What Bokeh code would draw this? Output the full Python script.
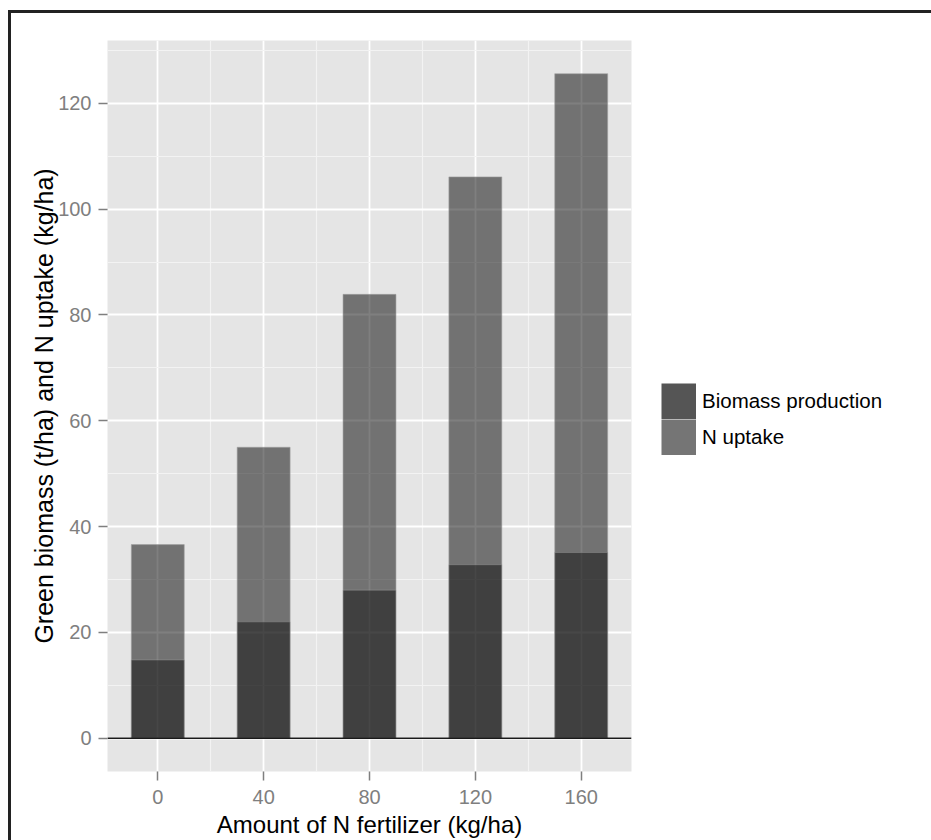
from bokeh.plotting import figure
from bokeh.models import Range1d, FixedTicker, Span, Legend, LegendItem
from bokeh.embed import file_html
from bokeh.resources import INLINE

# ---- data ----
n_fertilizer = [0, 40, 80, 120, 160]
biomass = [14.8, 22.0, 28.0, 32.8, 35.1]
n_uptake = [36.6, 55.0, 83.9, 106.1, 125.6]
x_ticks = [0, 40, 80, 120, 160]
y_ticks = [0, 20, 40, 60, 80, 100, 120]
series_names = ["Biomass production", "N uptake"]
x_title = "Amount of N fertilizer (kg/ha)"
y_title = "Green biomass (t/ha) and N uptake (kg/ha)"

bar_width = 20
FONT = "Liberation Sans"

# ggplot-like expansion
x_lo, x_hi = min(n_fertilizer) - bar_width / 2, max(n_fertilizer) + bar_width / 2
x_pad = 0.05 * (x_hi - x_lo)
y_hi = max(n_uptake)
y_pad = 0.05 * y_hi

p = figure(frame_width=524, frame_height=731, output_backend="svg", toolbar_location=None,
           x_range=Range1d(x_lo - x_pad, x_hi + x_pad),
           y_range=Range1d(-y_pad, y_hi + y_pad),
           min_border_left=96, min_border_right=292, min_border_top=27,
           min_border_bottom=20)
p.styles = {"border-top": "3px solid #222222", "border-left": "3px solid #222222",
            "margin-left": "8px", "margin-top": "10px"}

p.background_fill_color = "#E5E5E5"
p.border_fill_color = "white"
p.outline_line_color = None

x_minor = [(a + b) / 2 for a, b in zip(x_ticks[:-1], x_ticks[1:])]
y_minor = [t + (y_ticks[1] - y_ticks[0]) / 2 for t in y_ticks]
p.xaxis.ticker = FixedTicker(ticks=x_ticks, minor_ticks=x_minor)
p.yaxis.ticker = FixedTicker(ticks=y_ticks, minor_ticks=y_minor)

for g in (p.xgrid, p.ygrid):
    g.grid_line_color = "white"
    g.grid_line_width = 1.8
    g.minor_grid_line_color = "#F3F3F3"
    g.minor_grid_line_width = 1.1

for ax in (p.xaxis, p.yaxis):
    ax.axis_line_color = None
    ax.major_tick_line_color = "#7F7F7F"
    ax.major_tick_line_width = 1.5
    ax.major_tick_in = 0
    ax.major_tick_out = 9
    ax.minor_tick_line_color = None
    ax.major_label_text_font = FONT
    ax.major_label_text_font_size = "20px"
    ax.major_label_text_color = "#7F7F7F"
    ax.axis_label_text_font = FONT
    ax.axis_label_text_font_style = "normal"
    ax.axis_label_text_color = "black"

p.xaxis.axis_label_text_font_size = "24px"
p.yaxis.axis_label_text_font_size = "25px"
p.xaxis.major_label_standoff = 9
p.xaxis.axis_label_standoff = 4
p.yaxis.major_label_standoff = 7
p.yaxis.axis_label_standoff = -3
p.xaxis.axis_label = x_title
p.yaxis.axis_label = y_title

# bars (overlapping, semi-transparent)
p.vbar(x=n_fertilizer, top=n_uptake, bottom=0, width=bar_width,
       fill_color="black", fill_alpha=0.5, line_color="#A0A0A0", line_alpha=0.6, line_width=1)
p.vbar(x=n_fertilizer, top=biomass, bottom=0, width=bar_width,
       fill_color="black", fill_alpha=0.44, line_color="#A0A0A0", line_alpha=0.4, line_width=1)

p.add_layout(Span(location=0, dimension="width", line_color="#1A1A1A", line_width=1.6))

# legend keys: single-point proxy lines (draw nothing in the plot); a thick
# butt-capped line fills the whole key box so the two keys touch
r1 = p.line(x=n_fertilizer[:1], y=[0], line_width=36, line_cap="butt", line_color="#555555")
r2 = p.line(x=n_fertilizer[:1], y=[0], line_width=36, line_cap="butt", line_color="#757575")
legend = Legend(items=[LegendItem(label=series_names[0], renderers=[r1]),
                       LegendItem(label=series_names[1], renderers=[r2])],
                location="left", orientation="vertical",
                title=" ", title_text_font_size="20px", title_standoff=3,
                glyph_width=35, glyph_height=36, label_height=36, spacing=0,
                padding=0, margin=30, border_line_color=None, background_fill_alpha=0,
                label_standoff=6, label_text_font=FONT, label_text_font_size="20.5px",
                label_text_color="black")
p.add_layout(legend, "right")

open("out.html", "w").write(file_html(p, INLINE))
